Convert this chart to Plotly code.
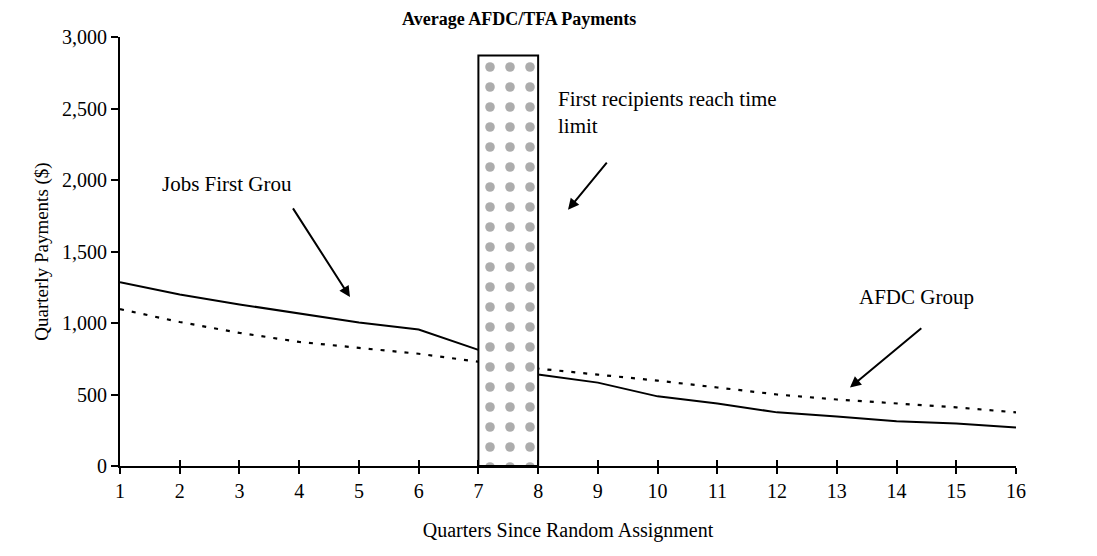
import plotly.graph_objects as go

quarters = list(range(1, 17))
jobs_first = [1285, 1200, 1130, 1065, 1003, 955, 812, 640, 583, 487, 437, 375, 347, 313, 298, 270]
afdc = [1097, 1007, 931, 868, 826, 785, 729, 681, 639, 597, 549, 500, 465, 437, 410, 375]

# time-limit band: quarters 7-8
band_x = [7.5]
band_top = [2870]

font = "Liberation Serif, Times New Roman, serif"

fig = go.Figure()

fig.add_trace(go.Scatter(x=quarters, y=jobs_first, mode="lines",
                         line=dict(color="black", width=2), cliponaxis=False))
fig.add_trace(go.Scatter(x=quarters, y=afdc, mode="lines",
                         line=dict(color="black", width=2.2, dash="4px,8px"), cliponaxis=False))
# band on an overlay subplot so it sits above the lines
fig.add_trace(go.Bar(x=band_x, y=band_top, width=1, xaxis="x2", yaxis="y2",
                     marker=dict(color="white",
                                 line=dict(color="black", width=2),
                                 pattern=dict(shape=".", fgcolor="#5a5a5a", bgcolor="white",
                                              size=20, solidity=0.18))))

fig.update_layout(
    width=1097, height=556,
    margin=dict(l=112, r=89, t=29, b=98),
    paper_bgcolor="white", plot_bgcolor="white",
    showlegend=False,
    font=dict(family=font, size=20, color="black"),
    title=dict(text="<b>Average AFDC/TFA Payments</b>", x=0.466, xanchor="center",
               y=1, yanchor="top", pad=dict(t=4), font=dict(family=font, size=18)),
    xaxis=dict(range=[1, 16], tickmode="array", tickvals=quarters,
               showgrid=False, zeroline=False, showline=True, linecolor="black", linewidth=2,
               ticks="outside", ticklen=6, tickwidth=2, tickcolor="black",
               title=dict(text="Quarters Since Random Assignment", standoff=22, font=dict(size=20)),
               tickfont=dict(size=20)),
    xaxis2=dict(range=[1, 16], overlaying="x", anchor="y2", tickmode="array", tickvals=quarters,
                showticklabels=False, showgrid=False, zeroline=False,
                ticks="inside", ticklen=6, tickwidth=2, tickcolor="black", side="bottom"),
    yaxis=dict(range=[0, 3000], tickmode="array", tickvals=[0, 500, 1000, 1500, 2000, 2500, 3000],
               ticktext=["0", "500", "1,000", "1,500", "2,000", "2,500", "3,000"],
               showgrid=False, zeroline=False, showline=True, linecolor="black", linewidth=2,
               ticks="outside", ticklen=7, tickwidth=2, tickcolor="black",
               title=dict(text="Quarterly Payments ($)", standoff=8, font=dict(size=19)),
               tickfont=dict(size=20)),
    yaxis2=dict(range=[0, 3000], overlaying="y", anchor="x2", visible=False),
)

arrow = dict(showarrow=True, arrowhead=2, arrowsize=1.1, arrowwidth=2, arrowcolor="black",
             xref="x", yref="y", axref="x", ayref="y", text="")
fig.add_annotation(x=4.85, y=1181, ax=3.88, ay=1812, **arrow)
fig.add_annotation(x=8.50, y=1792, ax=9.17, ay=2132, **arrow)
fig.add_annotation(x=13.22, y=549, ax=14.44, ay=972, **arrow)

fig.add_annotation(x=1.67, y=1972, text="Jobs First Grou", showarrow=False,
                   xanchor="left", yanchor="middle", font=dict(size=21))
fig.add_annotation(x=8.30, y=2472, text="First recipients reach time<br>limit", showarrow=False,
                   xanchor="left", yanchor="middle", align="left", font=dict(size=21))
fig.add_annotation(x=13.34, y=1181, text="AFDC Group", showarrow=False,
                   xanchor="left", yanchor="middle", font=dict(size=21))

fig.write_html("out.html")
